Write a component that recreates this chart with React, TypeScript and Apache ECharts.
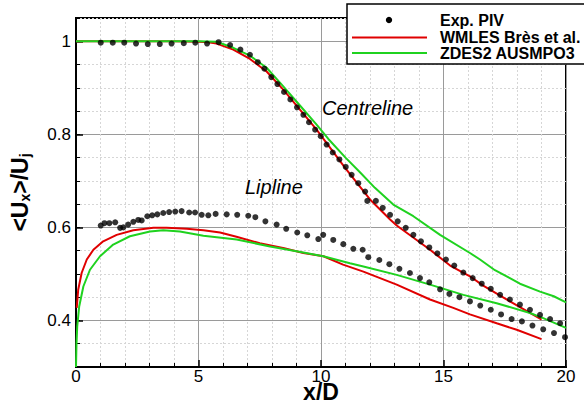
import React, { useEffect, useRef } from 'react';
import * as echarts from 'echarts';

const FONT = '"Liberation Sans", Arial, Helvetica, sans-serif';

// Experimental PIV – centreline
const expCentreX = [1.01,1.5,1.97,2.45,2.93,3.42,3.9,4.4,4.87,5.35,5.82,6.29,6.71,7.1,7.42,7.69,7.97,8.22,8.49,8.75,9.02,9.28,9.51,9.76,9.99,10.23,10.48,10.75,11.01,11.25,11.52,11.8,11.89,12.24,12.52,12.82,13.13,13.46,13.77,14.08,14.42,14.75,15.1,15.44,15.81,16.19,16.56,16.93,17.31,17.71,18.12,18.53,18.94,19.35,19.76];
const expCentreY = [0.997,0.997,0.997,0.995,0.994,0.994,0.995,0.996,0.997,0.995,0.998,0.992,0.982,0.971,0.955,0.941,0.923,0.908,0.891,0.875,0.858,0.842,0.826,0.81,0.796,0.778,0.761,0.746,0.73,0.713,0.695,0.677,0.657,0.657,0.642,0.627,0.613,0.599,0.584,0.57,0.557,0.544,0.531,0.518,0.503,0.491,0.479,0.468,0.455,0.445,0.434,0.423,0.412,0.403,0.394];

// Experimental PIV – lipline
const expLipX = [1.01,1.16,1.36,1.6,1.8,1.93,2.13,2.34,2.54,2.68,2.91,3.11,3.32,3.56,3.8,4.05,4.31,4.62,4.86,5.13,5.4,5.7,6.15,6.58,7.03,7.32,7.73,8.19,8.58,9.03,9.44,9.89,10.09,10.5,10.91,11.32,11.7,11.93,12.38,12.79,13.2,13.63,14.04,14.42,14.86,15.24,15.65,16.08,16.5,16.93,17.35,17.78,18.2,18.63,19.07,19.51,19.96];
const expLipY = [0.604,0.609,0.609,0.611,0.599,0.6,0.606,0.612,0.616,0.615,0.624,0.626,0.628,0.631,0.633,0.634,0.635,0.632,0.632,0.627,0.626,0.629,0.628,0.627,0.625,0.622,0.613,0.606,0.597,0.589,0.583,0.575,0.584,0.573,0.564,0.554,0.552,0.536,0.53,0.521,0.511,0.502,0.491,0.482,0.467,0.457,0.45,0.441,0.432,0.423,0.413,0.403,0.398,0.389,0.381,0.373,0.364];

// WMLES Brès et al. – centreline
const wmCentreX = [0,2,4,5,5.4,5.74,6.42,7.1,7.78,8.46,9.14,9.82,10.23,11,12,12.82,13.09,14.45,15.27,16.08,16.62,17.71,18.94,19.0];
const wmCentreY = [1.0,1.0,1.0,0.999,0.998,0.995,0.982,0.962,0.935,0.896,0.853,0.81,0.781,0.727,0.66,0.617,0.604,0.552,0.518,0.495,0.475,0.441,0.404,0.402];

// WMLES Brès et al. – lipline
const wmLipX = [0.03,0.09,0.23,0.44,0.71,1.11,1.66,2.34,3.16,3.7,4.52,5.2,5.88,6.55,7.5,8.5,9.28,10.1,10.9,11.73,13.09,14.45,15.4,16.08,17.17,17.99,19.0];
const wmLipY = [0.427,0.466,0.502,0.531,0.552,0.57,0.584,0.594,0.599,0.599,0.597,0.594,0.589,0.58,0.566,0.555,0.545,0.538,0.52,0.505,0.477,0.445,0.427,0.413,0.394,0.38,0.36];

// ZDES2 AUSMPO3 – centreline
const zdCentreX = [0,3,5,5.74,6.42,7.1,7.78,8.46,9.14,9.82,10.3,11.0,11.6,12.2,12.95,13.77,14.86,16.08,16.49,17.1,17.71,18.12,18.94,19.5,20];
const zdCentreY = [1.0,1.0,1.0,0.999,0.986,0.969,0.943,0.903,0.862,0.821,0.79,0.75,0.718,0.685,0.649,0.624,0.584,0.545,0.531,0.508,0.491,0.479,0.462,0.452,0.439];

// ZDES2 AUSMPO3 – lipline
const zdLipX = [0,0.02,0.05,0.13,0.3,0.57,0.98,1.52,2.2,3.02,3.56,4.24,5.2,6.56,7.92,9.28,10.09,11.18,11.73,13.09,14.45,15.81,17.17,18.53,19.07,20];
const zdLipY = [0.3,0.35,0.387,0.43,0.473,0.509,0.538,0.563,0.581,0.591,0.594,0.591,0.582,0.574,0.559,0.546,0.538,0.523,0.516,0.498,0.477,0.455,0.437,0.416,0.405,0.384];

const yMajorTicks = [0.4, 0.6, 0.8, 1];
const legendNames = ['Exp. PIV', 'WMLES Brès et al.', 'ZDES2 AUSMPO3'];

const zip = (xs: number[], ys: number[]) => xs.map((x, i) => [x, ys[i]]);

const RED = '#e00000';
const GREEN = '#1fd21f';

export default function App() {
  const ref = useRef<HTMLDivElement>(null);
  useEffect(() => {
    const chart = echarts.init(ref.current!, null, { renderer: 'svg' });
    const lineSeries = (name: string, data: number[][], color: string) => ({
      type: 'line', name, data, showSymbol: false, symbol: 'none',
      lineStyle: { color, width: 2 }, itemStyle: { color }, z: 3,
    });
    const scatter = (name: string, data: number[][]) => ({
      type: 'scatter', name, data, symbol: 'circle', symbolSize: 6,
      itemStyle: { color: '#000' }, z: 4,
    });
    const isMajor = (v: number) => yMajorTicks.some((t) => Math.abs(t - v) < 1e-6);
    chart.setOption({
      animation: false,
      backgroundColor: '#fff',
      textStyle: { fontFamily: FONT },
      grid: {
        left: 76, top: 18, width: 490, height: 349, show: true, borderColor: '#000', borderWidth: 2,
        backgroundColor: 'transparent', containLabel: false, outerBoundsMode: 'none',
      },
      xAxis: [{
        type: 'value', min: 0, max: 20, interval: 5,
        axisLine: { show: true, onZero: false, lineStyle: { color: '#000', width: 2 } },
        axisTick: { show: true, inside: true, length: 7, lineStyle: { color: '#000', width: 1.5 } },
        minorTick: { show: true, splitNumber: 5, length: 4, lineStyle: { color: '#000', width: 1 } },
        splitLine: { show: true, lineStyle: { color: '#9a9a9a', width: 1 } },
        minorSplitLine: { show: true, lineStyle: { color: '#d6d6d6', width: 1, type: [2, 2] } },
        axisLabel: { fontSize: 17, lineHeight: 14, color: '#000', margin: 2, fontFamily: FONT },
        name: 'x/D', nameLocation: 'middle', nameGap: 16, nameMoveOverlap: false,
        nameTextStyle: { fontSize: 23, lineHeight: 18, fontWeight: 'bold', color: '#000', fontFamily: FONT, verticalAlign: 'top' },
      }],
      yAxis: [{
        type: 'value', min: 0.3, max: 1.05, interval: 0.05,
        axisLine: { show: true, onZero: false, lineStyle: { color: '#000', width: 2 } },
        axisTick: { show: true, inside: true, length: 4, lineStyle: { color: '#000', width: 1 } },
        splitLine: { show: true, lineStyle: { color: '#d6d6d6', width: 1, type: [2, 2] } },
        axisLabel: { show: false },
      }, {
        type: 'value', min: 0.3, max: 1.05, interval: 0.1, position: 'left',
        axisLine: { show: false },
        axisTick: { show: true, inside: true, length: 7, customValues: yMajorTicks, lineStyle: { color: '#000', width: 1.5 } },
        splitLine: { show: true, lineStyle: { color: '#9a9a9a', width: 1 } },
        axisLabel: {
          show: true, customValues: yMajorTicks, fontSize: 17, color: '#000', margin: 5, fontFamily: FONT,
          formatter: (v: number) => (isMajor(v) ? String(Math.round(v * 10) / 10) : ''),
        },
        name: '{a|<U}{b|x}{a|>/U}{b|j}', nameLocation: 'middle', nameRotate: 90, nameGap: 44,
        nameTextStyle: {
          fontFamily: FONT, color: '#000',
          rich: {
            a: { fontSize: 23, fontWeight: 'bold', fontFamily: FONT, color: '#000', verticalAlign: 'top', lineHeight: 24 },
            b: { fontSize: 14, fontWeight: 'bold', fontFamily: FONT, color: '#000', verticalAlign: 'bottom', lineHeight: 14, padding: [16, 0, 0, 0] },
          },
        },
      }],
      series: [
        lineSeries(legendNames[1], zip(wmCentreX, wmCentreY), RED),
        lineSeries(legendNames[1], zip(wmLipX, wmLipY), RED),
        lineSeries(legendNames[2], zip(zdCentreX, zdCentreY), GREEN),
        lineSeries(legendNames[2], zip(zdLipX, zdLipY), GREEN),
        scatter(legendNames[0], zip(expCentreX, expCentreY)),
        scatter(legendNames[0], zip(expLipX, expLipY)),
      ],
      graphic: [
        { type: 'text', left: 322, top: 98, z: 50, style: { text: 'Centreline', fontSize: 20, fontStyle: 'italic', fontFamily: FONT, fill: '#000' } },
        { type: 'text', left: 245, top: 177, z: 50, style: { text: 'Lipline', fontSize: 20, fontStyle: 'italic', fontFamily: FONT, fill: '#000' } },
        {
          type: 'group', z: 100,
          children: [
            { type: 'rect', shape: { x: 347, y: 4, width: 260, height: 60 }, style: { fill: '#fff', stroke: '#000', lineWidth: 1.5 }, z: 100 },
            { type: 'circle', shape: { cx: 389, cy: 20, r: 3.2 }, style: { fill: '#000' }, z: 101 },
            { type: 'line', shape: { x1: 352, y1: 37.5, x2: 427, y2: 37.5 }, style: { stroke: RED, lineWidth: 2 }, z: 101 },
            { type: 'line', shape: { x1: 352, y1: 53, x2: 427, y2: 53 }, style: { stroke: GREEN, lineWidth: 2 }, z: 101 },
            { type: 'text', x: 440, y: 20, z: 101, style: { text: legendNames[0], fontSize: 16, fontWeight: 'bold', fontFamily: FONT, fill: '#000', verticalAlign: 'middle' } },
            { type: 'text', x: 440, y: 37, z: 101, style: { text: legendNames[1], fontSize: 16, fontWeight: 'bold', fontFamily: FONT, fill: '#000', verticalAlign: 'middle' } },
            { type: 'text', x: 440, y: 53, z: 101, style: { text: legendNames[2], fontSize: 16, fontWeight: 'bold', fontFamily: FONT, fill: '#000', verticalAlign: 'middle' } },
          ],
        },
      ],
    });
    return () => chart.dispose();
  }, []);
  return <div ref={ref} style={{ position: 'absolute', left: 0, top: 0, width: 584, height: 407 }} />;
}
